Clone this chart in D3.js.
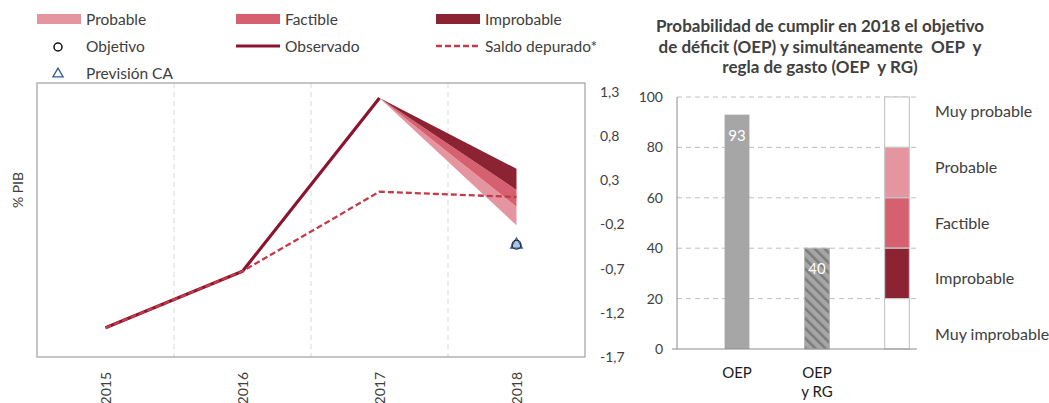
<!DOCTYPE html>
<html>
<head>
<meta charset="utf-8">
<script src="https://cdn.jsdelivr.net/npm/d3@7"></script>
<style>
  body { margin: 0; background: #fff; }
  svg { font-family: Lato, "Open Sans", sans-serif; }
  text { white-space: pre; }
</style>
</head>
<body>
<svg id="chart" width="1049" height="403"></svg>
<script>
// left panel data
const years = ['2015', '2016', '2017', '2018'];
const observado = [-1.37, -0.73, 1.23];
const saldoDepurado = [-1.37, -0.73, 0.17, 0.11];
const fanNames = ['Improbable', 'Factible', 'Probable'];
const fanEdges2018 = [0.43, 0.19, 0.0, -0.21];
const objetivo2018 = -0.43;
const prevision2018 = -0.43;
const leftTicks = [1.3, 0.8, 0.3, -0.2, -0.7, -1.2, -1.7];

// right panel data
const barCats = ['OEP', 'OEP y RG', 'scale'];
const barValues = [93, 40];
const scaleBreaks = [100, 80, 60, 40, 20, 0];
const scaleLabels = ['Muy probable', 'Probable', 'Factible', 'Improbable', 'Muy improbable'];
const rightTicks = [0, 20, 40, 60, 80, 100];

const colors = {
  Probable: '#e4959f',
  Factible: '#d6606f',
  Improbable: '#8b2333',
  obs: '#8b1530',
  saldo: '#c23b4b'
};
const textCol = '#404040';

const svg = d3.select('#chart');
const fmt = d => d3.format('.1f')(d).replace('.', ',').replace('\u2212', '-');

// ---------- legend ----------
const lg = svg.append('g');
const swatches = [['Probable', 37], ['Factible', 236], ['Improbable', 436]];
swatches.forEach(([name, x]) => {
  lg.append('rect').attr('x', x).attr('y', 14).attr('width', 44).attr('height', 10)
    .attr('fill', colors[name]);
  lg.append('text').attr('x', x + 49).attr('y', 25).text(name)
    .attr('font-size', 15.5).attr('fill', textCol);
});
lg.append('circle').attr('cx', 58).attr('cy', 47).attr('r', 4)
  .attr('fill', 'none').attr('stroke', '#111').attr('stroke-width', 1.5);
lg.append('text').attr('x', 86).attr('y', 52).text('Objetivo').attr('font-size', 15.5).attr('fill', textCol);
lg.append('line').attr('x1', 236).attr('x2', 280).attr('y1', 46).attr('y2', 46)
  .attr('stroke', colors.obs).attr('stroke-width', 3);
lg.append('text').attr('x', 285).attr('y', 52).text('Observado').attr('font-size', 15.5).attr('fill', textCol);
lg.append('line').attr('x1', 436).attr('x2', 480).attr('y1', 46).attr('y2', 46)
  .attr('stroke', colors.saldo).attr('stroke-width', 2.3).attr('stroke-dasharray', '6,3');
lg.append('text').attr('x', 485).attr('y', 52).text('Saldo depurado*').attr('font-size', 15.5).attr('fill', textCol);
lg.append('path').attr('d', d3.symbol(d3.symbolTriangle, 45)())
  .attr('transform', 'translate(58,74)').attr('fill', '#fff')
  .attr('stroke', '#2f5f95').attr('stroke-width', 1.3);
lg.append('text').attr('x', 86).attr('y', 79).text('Previsión CA').attr('font-size', 15.5).attr('fill', textCol);

// ---------- left chart ----------
const L = { left: 37, right: 585, top: 83, bottom: 357 };
const x = d3.scalePoint().domain(years).range([L.left, L.right]).padding(0.5);
const y = d3.scaleLinear().domain([-1.7, 1.4]).range([L.bottom, L.top]);
const step = x.step();

const left = svg.append('g');
left.append('g').selectAll('line')
  .data(years.slice(1))
  .join('line')
  .attr('x1', d => x(d) - step / 2).attr('x2', d => x(d) - step / 2)
  .attr('y1', L.top).attr('y2', L.bottom)
  .attr('stroke', '#d9d9d9').attr('stroke-dasharray', '5,4');

left.append('rect').attr('x', L.left).attr('y', L.top)
  .attr('width', L.right - L.left).attr('height', L.bottom - L.top)
  .attr('fill', 'none').attr('stroke', '#a6a6a6').attr('stroke-width', 1.3);

// fan chart
fanNames.slice().reverse().forEach((name, ri) => {
  const i = fanNames.length - 1 - ri;
  const pts = [
    [x('2017'), y(observado[2])],
    [x('2018'), y(fanEdges2018[i])],
    [x('2018'), y(fanEdges2018[i + 1])]
  ];
  left.append('path').attr('d', 'M' + pts.join('L') + 'Z').attr('fill', colors[name]);
});

const line = d3.line().x((d, i) => x(years[i])).y(d => y(d));
left.append('path').datum(observado).attr('d', line)
  .attr('fill', 'none').attr('stroke', colors.obs).attr('stroke-width', 3.2).attr('stroke-linejoin', 'round');
left.append('path').datum(saldoDepurado).attr('d', line)
  .attr('fill', 'none').attr('stroke', colors.saldo).attr('stroke-width', 2.3).attr('stroke-dasharray', '6,3');

left.append('path').attr('d', d3.symbol(d3.symbolTriangle, 60)())
  .attr('transform', `translate(${x('2018')},${y(prevision2018)})`)
  .attr('fill', '#a9c8e8').attr('stroke', '#2f5f95').attr('stroke-width', 1.2);
left.append('circle').attr('cx', x('2018')).attr('cy', y(objetivo2018)).attr('r', 4.5)
  .attr('fill', 'none').attr('stroke', '#222').attr('stroke-width', 1.2);

// right value labels of left chart
left.append('g').selectAll('text').data(leftTicks).join('text')
  .attr('x', 600).attr('y', d => y(d) + 5).text(fmt)
  .attr('font-size', 14).attr('fill', textCol);

left.append('g').selectAll('text').data(years).join('text')
  .attr('transform', d => `translate(${x(d) + 5},372) rotate(-90)`)
  .attr('text-anchor', 'end').text(d => d)
  .attr('font-size', 14).attr('fill', textCol);

svg.append('text').attr('transform', 'translate(23,190) rotate(-90)')
  .attr('text-anchor', 'middle').text('% PIB').attr('font-size', 14).attr('fill', textCol);

// ---------- right chart ----------
const R = { left: 677, right: 917, top: 97, bottom: 349 };
const xb = d3.scaleBand().domain(barCats).range([R.left + 20, R.right + 20]).paddingInner(0.69).paddingOuter(0.345);
const yb = d3.scaleLinear().domain([0, 100]).range([R.bottom, R.top]);

const defs = svg.append('defs');
const pat = defs.append('pattern').attr('id', 'hatch').attr('patternUnits', 'userSpaceOnUse')
  .attr('width', 7).attr('height', 7).attr('patternTransform', 'rotate(-45)');
pat.append('rect').attr('width', 7).attr('height', 7).attr('fill', '#a6a6a6');
pat.append('rect').attr('width', 2.5).attr('height', 7).attr('fill', '#7b7b7b');

const right = svg.append('g');
right.append('g').selectAll('line').data(rightTicks.filter(d => d > 0)).join('line')
  .attr('x1', R.left).attr('x2', R.right).attr('y1', d => yb(d)).attr('y2', d => yb(d))
  .attr('stroke', '#bfbfbf').attr('stroke-dasharray', '5,4');

right.selectAll('rect.bar').data(barValues).join('rect').attr('class', 'bar')
  .attr('x', (d, i) => xb(barCats[i])).attr('width', xb.bandwidth())
  .attr('y', d => yb(d)).attr('height', d => yb(0) - yb(d))
  .attr('fill', (d, i) => i === 0 ? '#a6a6a6' : 'url(#hatch)')
  .attr('stroke', (d, i) => i === 0 ? 'none' : '#b5b5b5');

right.selectAll('text.val').data(barValues).join('text').attr('class', 'val')
  .attr('x', (d, i) => xb(barCats[i]) + xb.bandwidth() / 2).attr('y', d => yb(d) + 26)
  .attr('text-anchor', 'middle').attr('fill', '#fff').attr('font-size', 15).text(d => d);

// probability scale column
const scaleFill = ['#ffffff', colors.Probable, colors.Factible, colors.Improbable, '#ffffff'];
right.append('g').selectAll('rect').data(scaleLabels).join('rect')
  .attr('x', xb('scale')).attr('width', xb.bandwidth())
  .attr('y', (d, i) => yb(scaleBreaks[i])).attr('height', (d, i) => yb(scaleBreaks[i + 1]) - yb(scaleBreaks[i]))
  .attr('fill', (d, i) => scaleFill[i]).attr('stroke', '#c8c8c8').attr('stroke-width', 1.2);

const labelY = d3.scalePoint().domain(scaleLabels).range([yb(94), yb(5.5)]);
right.append('g').selectAll('text').data(scaleLabels).join('text')
  .attr('x', 935).attr('y', d => labelY(d) + 5)
  .text(d => d).attr('font-size', 16).attr('fill', textCol);

// axes lines
right.append('line').attr('x1', R.left).attr('x2', R.left).attr('y1', R.top).attr('y2', R.bottom)
  .attr('stroke', '#8c8c8c');
right.append('line').attr('x1', R.left - 5).attr('x2', R.right).attr('y1', R.bottom).attr('y2', R.bottom)
  .attr('stroke', '#8c8c8c');

right.append('g').selectAll('text').data(rightTicks).join('text')
  .attr('x', 663).attr('y', d => yb(d) + 5).attr('text-anchor', 'end')
  .text(d => d).attr('font-size', 14).attr('fill', textCol);

const catLabels = [['OEP'], ['OEP', 'y RG']];
catLabels.forEach((lines, i) => {
  lines.forEach((t, j) => {
    right.append('text').attr('x', xb(barCats[i]) + xb.bandwidth() / 2).attr('y', 378 + j * 19)
      .attr('text-anchor', 'middle').text(t).attr('font-size', 15).attr('fill', '#1a1a1a');
  });
});

// title
const titleLines = ['Probabilidad de cumplir en 2018 el objetivo',
  'de déficit (OEP) y simultáneamente  OEP  y',
  'regla de gasto (OEP  y RG)'];
svg.append('g').selectAll('text').data(titleLines).join('text')
  .attr('x', 820).attr('y', (d, i) => 32 + i * 20.5).attr('text-anchor', 'middle')
  .attr('font-weight', 'bold').attr('font-size', 17).attr('fill', textCol).text(d => d);
</script>
</body>
</html>
